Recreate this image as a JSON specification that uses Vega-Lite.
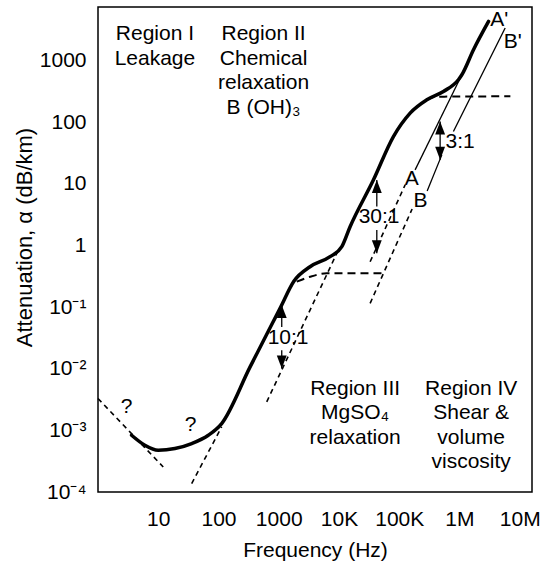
{
  "$schema": "https://vega.github.io/schema/vega-lite/v6.json",
  "width": 434,
  "height": 485,
  "autosize": {"type": "none"},
  "padding": {"left": 98, "top": 7, "right": 19, "bottom": 74},
  "background": "white",
  "config": {
    "font": "Liberation Sans",
    "view": {"stroke": "black", "strokeWidth": 1.5},
    "axis": {
      "domain": false, "ticks": false,
      "labelColor": "black", "labelFontSize": 21, "labelFont": "Liberation Sans",
      "titleColor": "black", "titleFontSize": 21, "titleFont": "Liberation Sans", "titleFontWeight": "normal",
      "grid": false, "labelFlush": false, "labelOverlap": false, "labelBound": false
    },
    "text": {"font": "Liberation Sans", "fontSize": 21, "color": "black"}
  },
  "datasets": {
    "total": [
      {"f": 3.61, "a": 0.000833}, {"f": 6.0, "a": 0.000573}, {"f": 10, "a": 0.000475},
      {"f": 18.9, "a": 0.000507}, {"f": 35.9, "a": 0.000611}, {"f": 67.8, "a": 0.000833},
      {"f": 113, "a": 0.00129}, {"f": 333, "a": 0.0106},
      {"f": 1052, "a": 0.0953}, {"f": 1795, "a": 0.264},
      {"f": 3311, "a": 0.451}, {"f": 7117, "a": 0.656}, {"f": 11140, "a": 0.953},
      {"f": 15290, "a": 2.01}, {"f": 37240, "a": 11.5}, {"f": 80100, "a": 58.3},
      {"f": 151800, "a": 140}, {"f": 287300, "a": 230}, {"f": 541600, "a": 314},
      {"f": 961000, "a": 486}, {"f": 1096000, "a": 586}, {"f": 1710000, "a": 1493},
      {"f": 3040000, "a": 4297}
    ],
    "asymptotes": [
      {"series": "leakage", "f": 1.0, "a": 0.00329}, {"series": "leakage", "f": 12.1, "a": 0.000255},
      {"series": "boric", "f": 35.9, "a": 0.000137}, {"series": "boric", "f": 113, "a": 0.00114},
      {"series": "mgso4", "f": 632, "a": 0.0029}, {"series": "mgso4", "f": 9772, "a": 0.842},
      {"series": "A", "f": 32900, "a": 0.543}, {"series": "A", "f": 125400, "a": 9.57},
      {"series": "B", "f": 32900, "a": 0.115}, {"series": "B", "f": 163700, "a": 3.9}
    ],
    "plateaus": [
      {"series": "boric", "f": 1991, "a": 0.258}, {"series": "boric", "f": 3311, "a": 0.31},
      {"series": "boric", "f": 6266, "a": 0.352}, {"series": "boric", "f": 51400, "a": 0.352},
      {"series": "mgso4", "f": 287300, "a": 230}, {"series": "mgso4", "f": 400000, "a": 258},
      {"series": "mgso4", "f": 7000000, "a": 262}
    ],
    "viscous": [
      {"series": "A", "f": 183600, "a": 16.8}, {"series": "A", "f": 1096000, "a": 586},
      {"series": "B1", "f": 291000, "a": 7.66}, {"series": "B1", "f": 510000, "a": 29.4},
      {"series": "B2", "f": 794000, "a": 70.3}, {"series": "B2", "f": 5740000, "a": 3357}
    ],
    "shafts": [
      {"f": 1122, "a": 0.1077, "a2": 0.0473}, {"f": 1122, "a": 0.02, "a2": 0.0101},
      {"f": 42460, "a": 11.5, "a2": 4.26}, {"f": 42460, "a": 1.78, "a2": 0.745},
      {"f": 477500, "a": 102, "a2": 24.4}
    ],
    "headsUp": [{"f": 1122, "a": 0.1077}, {"f": 42460, "a": 11.5}, {"f": 477500, "a": 102}],
    "headsDown": [{"f": 1122, "a": 0.0101}, {"f": 42460, "a": 0.745}, {"f": 477500, "a": 24.4}],
    "labels": [
      {"f": 2.99, "a": 0.00238, "text": "?"}, {"f": 34.3, "a": 0.00121, "text": "?"},
      {"f": 1429, "a": 0.0313, "text": "10:1"}, {"f": 46360, "a": 2.84, "text": "30:1"},
      {"f": 1028000, "a": 46.9, "text": "3:1"}, {"f": 161800, "a": 12.0, "text": "A"},
      {"f": 224900, "a": 5.3, "text": "B"}, {"f": 4560000, "a": 4580, "text": "A'"},
      {"f": 7660000, "a": 1977, "text": "B'"}
    ],
    "regions": [
      {"f": 8.81, "a": 4018, "text": ["Region I", "Leakage"]},
      {"f": 560, "a": 4018, "text": ["Region II", "Chemical", "relaxation", "B (OH)₃"]},
      {"f": 18530, "a": 0.00716, "text": ["Region III", "MgSO₄", "relaxation"]},
      {"f": 1563000, "a": 0.00716, "text": ["Region IV", "Shear &", "volume", "viscosity"]}
    ],
    "xticks": [{"f": 10}, {"f": 100}, {"f": 1000}, {"f": 10000}, {"f": 100000}, {"f": 1000000}],
    "yticks": [{"a": 0.001}, {"a": 0.01}, {"a": 0.1}, {"a": 1}, {"a": 10}, {"a": 100}, {"a": 1000}]
  },
  "encoding": {
    "x": {
      "field": "f", "type": "quantitative",
      "scale": {"type": "log", "domain": [1, 16000000], "nice": false},
      "axis": {
        "values": [10, 100, 1000, 10000, 100000, 1000000, 10000000],
        "labelExpr": "datum.value >= 1000000 ? format(datum.value / 1000000, 'd') + 'M' : datum.value >= 10000 ? format(datum.value / 1000, 'd') + 'K' : format(datum.value, 'd')",
        "labelPadding": 16,
        "title": "Frequency (Hz)",
        "titleBaseline": "alphabetic",
        "titleY": 64
      }
    },
    "y": {
      "field": "a", "type": "quantitative",
      "scale": {"type": "log", "domain": [0.0001, 7360], "nice": false},
      "axis": {
        "values": [0.0001, 0.001, 0.01, 0.1, 1, 10, 100, 1000],
        "labelExpr": "datum.value >= 1 ? format(datum.value, 'd') : datum.value > 0.05 ? '10⁻¹' : datum.value > 0.005 ? '10⁻²' : datum.value > 0.0005 ? '10⁻³' : '10⁻⁴'",
        "labelPadding": 12,
        "title": "Attenuation, α (dB/km)",
        "titleAngle": -90,
        "titleBaseline": "alphabetic",
        "titleAlign": "center",
        "titleFontSize": 22,
        "titleX": -67,
        "titleY": 230
      }
    }
  },
  "layer": [
    {
      "data": {"name": "xticks"},
      "mark": {"type": "rule", "color": "black", "strokeWidth": 1.6},
      "encoding": {"y": {"datum": 0.0001}, "y2": {"datum": 0.00014}}
    },
    {
      "data": {"name": "yticks"},
      "mark": {"type": "rule", "color": "black", "strokeWidth": 1.6},
      "encoding": {"x": {"datum": 1}, "x2": {"datum": 1.411}}
    },
    {
      "data": {"name": "asymptotes"},
      "mark": {"type": "line", "color": "black", "strokeWidth": 1.6, "strokeDash": [5, 4]},
      "encoding": {"detail": {"field": "series", "type": "nominal"}}
    },
    {
      "data": {"name": "plateaus"},
      "mark": {"type": "line", "color": "black", "strokeWidth": 2, "strokeDash": [8, 5], "interpolate": "monotone"},
      "encoding": {"detail": {"field": "series", "type": "nominal"}}
    },
    {
      "data": {"name": "viscous"},
      "mark": {"type": "line", "color": "black", "strokeWidth": 1.3},
      "encoding": {"detail": {"field": "series", "type": "nominal"}}
    },
    {
      "data": {"name": "total"},
      "mark": {"type": "line", "color": "black", "strokeWidth": 3.5, "interpolate": "monotone", "strokeCap": "round"},
      "encoding": {}
    },
    {
      "data": {"name": "shafts"},
      "mark": {"type": "rule", "color": "black", "strokeWidth": 1.3},
      "encoding": {"y2": {"field": "a2"}}
    },
    {
      "data": {"name": "headsUp"},
      "mark": {"type": "point", "shape": "M0,0L-0.38,1L0.38,1Z", "size": 676, "filled": true, "color": "black", "opacity": 1, "strokeWidth": 0}
    },
    {
      "data": {"name": "headsDown"},
      "mark": {"type": "point", "shape": "M0,0L-0.38,-1L0.38,-1Z", "size": 676, "filled": true, "color": "black", "opacity": 1, "strokeWidth": 0}
    },
    {
      "data": {"name": "labels"},
      "mark": {"type": "text", "align": "center", "baseline": "middle", "fontSize": 21},
      "encoding": {"text": {"field": "text", "type": "nominal"}}
    },
    {
      "data": {"name": "regions"},
      "mark": {"type": "text", "align": "center", "baseline": "top", "fontSize": 21, "lineHeight": 24.5},
      "encoding": {"text": {"field": "text", "type": "nominal"}}
    }
  ]
}
